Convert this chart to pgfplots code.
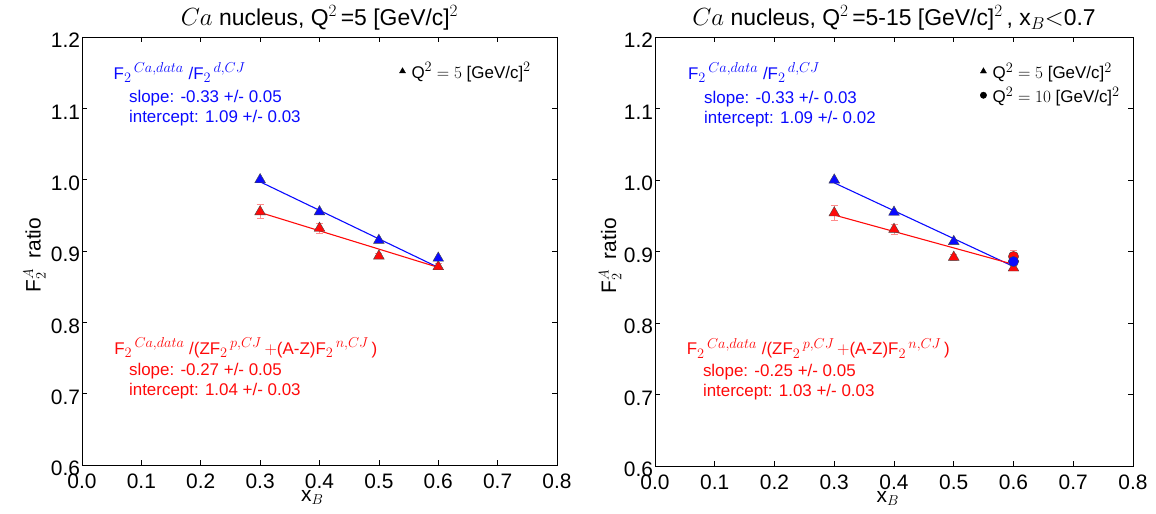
\documentclass[border=0pt]{standalone}
\usepackage{fontspec}
\setmainfont{Liberation Sans}
\usepackage{pgfplots}
\pgfplotsset{compat=1.18}
\DeclareMathSizes{17}{17}{13.5}{10}
\definecolor{myblue}{RGB}{10,10,255}
\definecolor{myred}{RGB}{255,10,10}
\definecolor{errred}{RGB}{255,140,140}
\definecolor{mkedge}{RGB}{70,70,70}

\pgfplotsset{
 myaxis/.style={
  scale only axis, anchor=south west,
  xmin=0, xmax=0.8, ymin=0.6, ymax=1.2,
  xtick={0,0.1,0.2,0.3,0.4,0.5,0.6,0.7,0.8},
  ytick={0.6,0.7,0.8,0.9,1.0,1.1,1.2},
  tick align=inside, major tick length=5bp,
  axis line style={line width=0.9bp},
  tick style={black, line width=0.6bp},
  ticklabel style={font=\fontsize{21}{25}\selectfont},
  /pgf/number format/assume math mode=true,
  /pgf/number format/fixed, /pgf/number format/fixed zerofill,
  /pgf/number format/precision=1,
  xticklabel style={yshift=-5bp},
  yticklabel style={xshift=1.5bp, yshift=-3.5bp},
  title style={font=\fontsize{23}{27}\selectfont, yshift=-3bp},
  xlabel style={font=\fontsize{21}{25}\selectfont, anchor=center},
  ylabel style={font=\fontsize{21}{25}\selectfont, anchor=center, rotate=0},
  legend style={draw=none, fill=none, font=\fontsize{17}{20}\selectfont, inner sep=0pt, row sep=3bp, column sep=4bp},
  legend cell align=left,
 },
 tri/.style={only marks, mark=triangle*, mark size=6.2bp, mark options={draw=mkedge, line width=0.4bp}},
 circ/.style={only marks, mark=*, mark size=5.2bp, mark options={draw=mkedge, line width=0.4bp}},
 fit/.style={no marks, line width=1.1bp},
 errs/.style={/pgfplots/error bars/y dir=both, /pgfplots/error bars/y explicit,
   /pgfplots/error bars/error bar style={errred, line width=0.8bp},
   /pgfplots/error bars/error mark options={errred, rotate=90, mark size=3.5bp, line width=0.8bp}},
}
\tikzset{ann/.style={anchor=base west, font=\fontsize{17}{20}\selectfont, inner sep=0pt}}
\newcommand{\plus}{\,$+$}
\newcommand{\Ftwo}[1]{F$_2{}^{\,#1}$}

\begin{document}
\begin{tikzpicture}
\path[use as bounding box] (0,0) rectangle (1156bp,514bp);

% ---------------- left panel
\begin{axis}[myaxis, at={(82bp,49bp)}, width=475bp, height=428bp,
  title={$Ca$ nucleus, Q$^2$\,=5 [GeV/c]$^2$},
  xlabel={x$_B$}, xlabel style={at={(axis description cs:0.485,-0.075)}},
  ylabel={F$_2^A$\,\,\,ratio}, ylabel style={at={(axis description cs:-0.1,0.49)}},
  legend style={at={(rel axis cs:0.668,0.945)}, anchor=north west},
]
\addlegendimage{only marks, mark=triangle*, mark size=3.5bp, black}
\addlegendentry{Q$^2$ $=5$ [GeV/c]$^2$}

\addplot+[tri, errs, forget plot, mark options={fill=myred, draw=mkedge}] table[y error index=2] {
x y e
0.3 0.955 0.010
0.4 0.932 0.007
0.5 0.893 0.004
0.6 0.878 0.004
};
\addplot+[tri, forget plot, mark options={fill=myblue, draw=mkedge}] table {
x y
0.3 1.000
0.4 0.955
0.5 0.915
0.6 0.890
};
\addplot[fit, myblue, forget plot] coordinates {(0.3,0.997) (0.6,0.877)};
\addplot[fit, myred, forget plot] coordinates {(0.3,0.954) (0.6,0.877)};

\node[ann, text=myblue] at (axis cs:0.053,1.141) {\Ftwo{Ca,data} /\Ftwo{d,CJ}};
\node[ann, text=myblue] at (axis cs:0.079,1.1075) {slope: -0.33 +/- 0.05};
\node[ann, text=myblue] at (axis cs:0.079,1.0796) {intercept: 1.09 +/- 0.03};

\node[ann, text=myred] at (axis cs:0.054,0.7556) {\Ftwo{Ca,data} /(Z\Ftwo{p,CJ}\plus(A-Z)\Ftwo{n,CJ}\,)};
\node[ann, text=myred] at (axis cs:0.079,0.725) {slope: -0.27 +/- 0.05};
\node[ann, text=myred] at (axis cs:0.079,0.697) {intercept: 1.04 +/- 0.03};
\end{axis}

% ---------------- right panel
\begin{axis}[myaxis, at={(655bp,48bp)}, width=478bp, height=429bp,
  title={$Ca$ nucleus, Q$^2$\,=5-15 [GeV/c]$^2$\,, x$_B$$<$0.7},
  xlabel={x$_B$}, xlabel style={at={(axis description cs:0.487,-0.075)}},
  ylabel={F$_2^A$\,\,\,ratio}, ylabel style={at={(axis description cs:-0.094,0.49)}},
  legend style={at={(rel axis cs:0.68,0.945)}, anchor=north west},
]
\addlegendimage{only marks, mark=triangle*, mark size=3.5bp, black}
\addlegendentry{Q$^2$ $=5$ [GeV/c]$^2$}
\addlegendimage{only marks, mark=*, mark size=3.2bp, black}
\addlegendentry{Q$^2$ $=10$ [GeV/c]$^2$}

\addplot+[tri, forget plot, mark options={fill=myblue, draw=mkedge}] table {
x y
0.3 1.000
0.4 0.955
0.5 0.914
0.6 0.890
};
\addplot+[tri, errs, forget plot, mark options={fill=myred, draw=mkedge}] table[y error index=2] {
x y e
0.3 0.954 0.010
0.4 0.931 0.007
0.5 0.892 0.004
0.6 0.877 0.004
};
\addplot+[circ, errs, forget plot, mark options={fill=myred, draw=mkedge}] table[y error index=2] {
x y e
0.6 0.893 0.009
};
\addplot+[circ, forget plot, mark options={fill=myblue, draw=mkedge}] table {
x y
0.6 0.886
};
\addplot[fit, myblue, forget plot] coordinates {(0.3,0.996) (0.6,0.879)};
\addplot[fit, myred, forget plot] coordinates {(0.3,0.951) (0.6,0.882)};

\node[ann, text=myblue] at (axis cs:0.055,1.141) {\Ftwo{Ca,data} /\Ftwo{d,CJ}};
\node[ann, text=myblue] at (axis cs:0.082,1.1075) {slope: -0.33 +/- 0.03};
\node[ann, text=myblue] at (axis cs:0.082,1.0796) {intercept: 1.09 +/- 0.02};

\node[ann, text=myred] at (axis cs:0.053,0.7556) {\Ftwo{Ca,data} /(Z\Ftwo{p,CJ}\plus(A-Z)\Ftwo{n,CJ}\,)};
\node[ann, text=myred] at (axis cs:0.080,0.725) {slope: -0.25 +/- 0.05};
\node[ann, text=myred] at (axis cs:0.080,0.697) {intercept: 1.03 +/- 0.03};
\end{axis}
\end{tikzpicture}
\end{document}
